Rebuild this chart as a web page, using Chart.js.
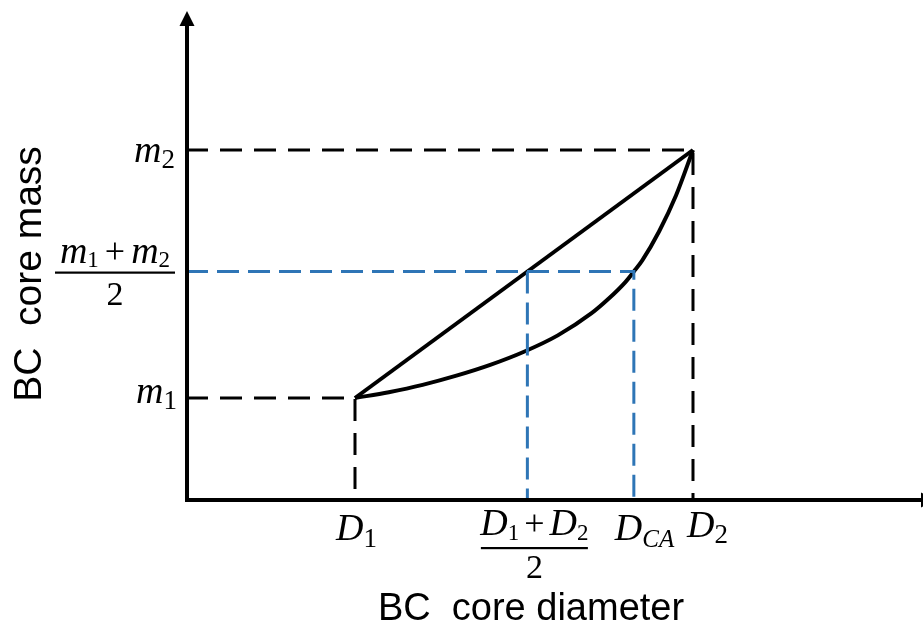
<!DOCTYPE html>
<html>
<head>
<meta charset="utf-8">
<script src="https://cdn.jsdelivr.net/npm/chart.js@4"></script>
<style>
html,body{margin:0;padding:0;background:#fff;}
#wrap{width:923px;height:626px;position:relative;}
</style>
</head>
<body>
<div id="wrap"><canvas id="c" width="923" height="626"></canvas></div>
<script>
// Key values (data units)
const D1 = 1, D2 = 3, DMID = 2.02, DCA = 2.65;
const M1 = 1, M2 = 3, MMID = 2.02;
// straight line (linear relation)
const lineX = [D1, D2];
const lineY = [M1, M2];
// curved relation
const curveX = [1.0, 1.2, 1.4, 1.6, 1.8, 2.0, 2.2, 2.4, 2.5, 2.6, 2.65, 2.7, 2.8, 2.9, 3.0];
const curveY = [1.0, 1.047, 1.106, 1.180, 1.267, 1.373, 1.505, 1.684, 1.800, 1.935, 2.02, 2.11, 2.345, 2.635, 3.0];
const xTitle = 'BC  core diameter';
const yTitle = 'BC  core mass';

const X_MIN = 0, X_MAX = 4.361, Y_MIN = 0.1774, Y_MAX = 4.129;
const BLACK = '#000000', BLUE = '#2E75B6';

function pts(xs, ys){ return xs.map((x,i)=>({x:x, y:ys[i]})); }

const datasets = [
  // black dashed guides
  {data: pts([X_MIN, D2, D2],[M2, M2, Y_MIN]), borderColor: BLACK, borderWidth: 3, borderDash:[22,12], pointRadius:0, tension:0},
  {data: pts([X_MIN, D1, D1],[M1, M1, Y_MIN]), borderColor: BLACK, borderWidth: 3, borderDash:[22,12], pointRadius:0, tension:0},
  // blue dashed guides
  {data: pts([X_MIN, DCA, DCA],[MMID, MMID, Y_MIN]), borderColor: BLUE, borderWidth: 3, borderDash:[22,9], pointRadius:0, tension:0},
  {data: pts([DMID, DMID],[MMID, Y_MIN]), borderColor: BLUE, borderWidth: 3, borderDash:[22,9], pointRadius:0, tension:0},
  // curves
  {data: pts(lineX, lineY), borderColor: BLACK, borderWidth: 4, pointRadius:0, tension:0},
  {data: pts(curveX, curveY), borderColor: BLACK, borderWidth: 4, pointRadius:0, cubicInterpolationMode:'monotone'}
];
datasets.forEach(d=>{ d.showLine = true; d.fill = false; d.borderCapStyle='butt'; });

const MATH = '"Liberation Serif", "Times New Roman", serif';

function setFont(ctx, s){
  ctx.font = (s.i ? 'italic ' : '') + (s.fs || 38) + 'px ' + MATH;
}
function segW(ctx, s){
  setFont(ctx, s);
  return ctx.measureText(s.t).width + (s.pad || 0) * 2;
}
function mathWidth(ctx, segs){ return segs.reduce((a,s)=>a+segW(ctx,s),0); }
function drawMath(ctx, segs, x, y, align){
  const w = mathWidth(ctx, segs);
  let cx = align==='right' ? x - w : (align==='center' ? x - w/2 : x);
  ctx.textBaseline = 'alphabetic';
  ctx.textAlign = 'left';
  ctx.fillStyle = BLACK;
  segs.forEach(s=>{
    const sw = segW(ctx, s);
    setFont(ctx, s);
    ctx.fillText(s.t, cx + (s.pad || 0), y + (s.dy || 0));
    cx += sw;
  });
  return w;
}

const axesPlugin = {
  id: 'axesPlugin',
  afterDatasetsDraw(chart){
    const ctx = chart.ctx;
    const xs = chart.scales.x, ys = chart.scales.y;
    const ox = xs.getPixelForValue(X_MIN) + 1, oy = ys.getPixelForValue(Y_MIN);
    ctx.save();
    ctx.fillStyle = BLACK;
    // y axis
    ctx.fillRect(ox - 2, 24, 4, oy - 24 + 2);
    ctx.beginPath();
    ctx.moveTo(ox, 11); ctx.lineTo(ox - 7.5, 26); ctx.lineTo(ox + 7.5, 26); ctx.closePath(); ctx.fill();
    // x axis
    ctx.fillRect(ox - 2, oy - 2, 921 - ox + 2, 4);
    ctx.beginPath();
    ctx.moveTo(936, oy); ctx.lineTo(921, oy - 7.5); ctx.lineTo(921, oy + 7.5); ctx.closePath(); ctx.fill();

    // x tick labels
    const pD1 = xs.getPixelForValue(D1), pD2 = xs.getPixelForValue(D2);
    const pMid = xs.getPixelForValue(DMID), pCA = xs.getPixelForValue(DCA);
    drawMath(ctx, [{t:'D',i:true},{t:'1',fs:27,dy:7}], pD1 - 19, 540, 'left');
    // fraction (D1 + D2)/2
    drawMath(ctx, [{t:'D',i:true},{t:'1',fs:23,dy:5},{t:'+',fs:36,pad:5},{t:'D',i:true},{t:'2',fs:23,dy:5}], pMid + 7, 535, 'center');
    ctx.fillRect(pMid + 7 - 53.5, 547, 107, 2.2);
    drawMath(ctx, [{t:'2',fs:34}], pMid + 7, 578, 'center');
    drawMath(ctx, [{t:'D',i:true},{t:'CA',i:true,fs:25,dy:7}], pCA - 19, 540, 'left');
    drawMath(ctx, [{t:'D',i:true},{t:'2',fs:27,dy:6}], pD2 - 6, 537, 'left');

    // y tick labels
    const pM1 = ys.getPixelForValue(M1), pM2 = ys.getPixelForValue(M2), pMM = ys.getPixelForValue(MMID);
    drawMath(ctx, [{t:'m',i:true},{t:'2',fs:27,dy:6}], 175, pM2 + 12, 'right');
    drawMath(ctx, [{t:'m',i:true},{t:'1',fs:27,dy:6}], 177, pM1 + 5, 'right');
    // fraction (m1 + m2)/2
    drawMath(ctx, [{t:'m',i:true},{t:'1',fs:23,dy:4},{t:'+',fs:36,pad:6},{t:'m',i:true},{t:'2',fs:23,dy:4}], 115, pMM - 9, 'center');
    ctx.fillRect(55, pMM, 120, 2.2);
    drawMath(ctx, [{t:'2',fs:34}], 115, pMM + 33, 'center');

    // axis titles
    ctx.fillStyle = BLACK;
    ctx.font = '38px "Liberation Sans", Arial, sans-serif';
    ctx.textAlign = 'center';
    ctx.textBaseline = 'alphabetic';
    ctx.fillText(xTitle, 531, 620);
    ctx.save();
    ctx.translate(41, 274);
    ctx.rotate(-Math.PI/2);
    ctx.font = '39px "Liberation Sans", Arial, sans-serif';
    ctx.fillText(yTitle, 0, 0);
    ctx.restore();
    ctx.restore();
  }
};

new Chart(document.getElementById('c'), {
  type: 'scatter',
  data: { datasets },
  options: {
    responsive: false,
    animation: false,
    layout: { padding: { left: 186, right: 0, top: 10, bottom: 126 } },
    plugins: { legend: {display:false}, tooltip: {enabled:false} },
    scales: {
      x: { type:'linear', min: X_MIN, max: X_MAX, display: false },
      y: { type:'linear', min: Y_MIN, max: Y_MAX, display: false }
    }
  },
  plugins: [axesPlugin]
});
</script>
</body>
</html>
